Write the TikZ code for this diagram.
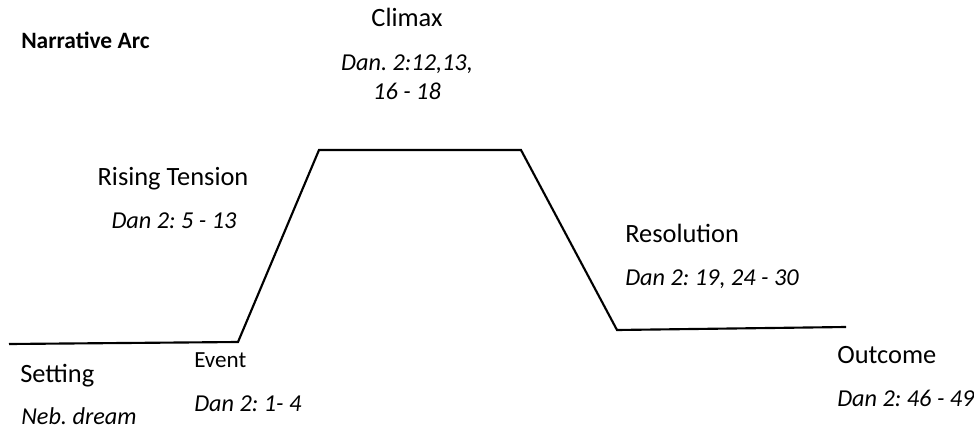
\documentclass[tikz,border=0pt]{standalone}
\usepackage{fontspec}
\setmainfont{Carlito}
\frenchspacing
\begin{document}
\begin{tikzpicture}[x=0.75pt,y=-0.75pt,
  arc/.style={line width=1.6pt,line join=miter},
  head/.style={anchor=base west,inner sep=0pt,font=\fontsize{19.8}{23}\selectfont},
  small/.style={anchor=base west,inner sep=0pt,font=\fontsize{17.3}{20}\selectfont},
  ref/.style={anchor=base west,inner sep=0pt,font=\fontsize{18.2}{21.75}\selectfont\itshape},
  title/.style={anchor=base west,inner sep=0pt,font=\fontsize{17.6}{20}\selectfont\bfseries}]
\useasboundingbox[fill=white] (0,0) rectangle (974,428);
% arc corners
\coordinate (s) at (9,344);
\coordinate (e) at (238,342);
\coordinate (c1) at (319,150);
\coordinate (c2) at (521,150);
\coordinate (r) at (617,330);
\coordinate (o) at (846,327);
\draw[arc] (s) -- (e) -- (c1) -- (c2) -- (r) -- (o);
% labels
\node[title] (t) at (21,49) {Narrative Arc};
\node[head,anchor=base] (climax) at (407,27) {Climax};
\node[ref,anchor=base,align=center] (climaxref) at (407,99) {Dan. 2:12,13,\\16 - 18};
\node[head,anchor=base] (rising) at (173,185) {Rising Tension};
\node[ref,anchor=base] (risingref) at (174,228) {Dan 2: 5 - 13};
\node[head] (setting) at (20,382) {Setting};
\node[ref] (settingref) at (21,424) {Neb. dream};
\node[small] (event) at (194,367) {Event};
\node[ref] (eventref) at (194,411) {Dan 2: 1- 4};
\node[head] (resolution) at (625,242) {Resolution};
\node[ref] (resolutionref) at (625,285) {Dan 2: 19, 24 - 30};
\node[head] (outcome) at (837,363) {Outcome};
\node[ref] (outcomeref) at (837,406) {Dan 2: 46 - 49};
\end{tikzpicture}
\end{document}
